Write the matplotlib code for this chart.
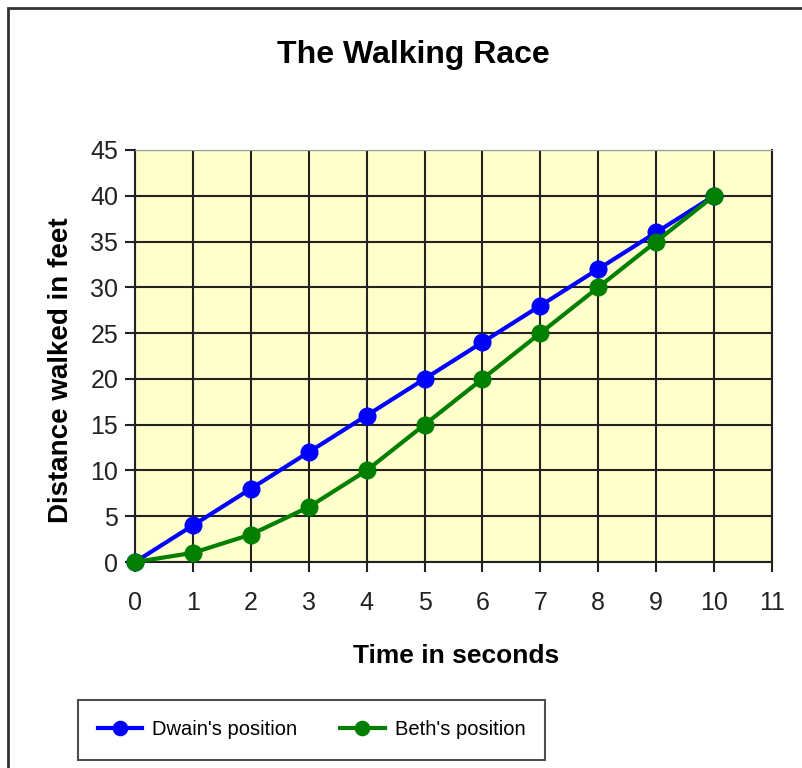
import matplotlib.pyplot as plt
from matplotlib.patches import Rectangle

seconds = [0, 1, 2, 3, 4, 5, 6, 7, 8, 9, 10]
dwain = [0, 4, 8, 12, 16, 20, 24, 28, 32, 36, 40]
beth = [0, 1, 3, 6, 10, 15, 20, 25, 30, 35, 40]

plt.rcParams['font.family'] = ['Liberation Sans', 'DejaVu Sans']

fig = plt.figure(figsize=(8.02, 7.68), dpi=100)
ax = fig.add_axes([0.1683, 0.2682, 0.7943, 0.5365])
ax.set_facecolor('#ffffcc')

ax.plot(seconds, dwain, color='#0000ff', lw=3, marker='o', ms=12,
        label="Dwain's position", zorder=3, clip_on=False)
ax.plot(seconds, beth, color='#007f00', lw=3, marker='o', ms=12,
        label="Beth's position", zorder=4, clip_on=False)

ax.set_xlim(0, 11)
ax.set_ylim(0, 45)
ax.set_xticks(range(0, 12))
ax.set_yticks(range(0, 50, 5))
ax.grid(True, color='#222222', lw=1.5)
ax.set_axisbelow(True)
ax.tick_params(labelsize=18, length=7, width=1.5, colors='#222222')
ax.tick_params(axis='x', pad=14)
ax.tick_params(axis='y', pad=5)
for s in ['left', 'bottom', 'right']:
    ax.spines[s].set_color('#222222')
    ax.spines[s].set_linewidth(1.5)
ax.spines['top'].set_color('#999999')

ax.set_xlabel('Time in seconds', fontsize=19, fontweight='bold')
ax.set_ylabel('Distance walked in feet', fontsize=20, fontweight='bold')
ax.xaxis.set_label_coords(0.504, -0.198)
ax.yaxis.set_label_coords(-0.095, 0.466)
fig.text(0.516, 0.928, 'The Walking Race', fontsize=23, fontweight='bold',
         ha='center', va='center')

leg = fig.legend(loc='lower left', bbox_to_anchor=(0.097, 0.011, 0.583, 0.076),
                 mode='expand', ncol=2, fontsize=14.5, frameon=True, fancybox=False,
                 edgecolor='#222222', handlelength=2.2, borderaxespad=0,
                 markerscale=0.85, borderpad=1.0, handletextpad=0.5)
leg.get_frame().set_linewidth(1.5)

fig.patches.append(Rectangle((0.01, -0.05), 1.2, 1.04, transform=fig.transFigure,
                             fill=False, edgecolor='#333333', lw=2))

fig.savefig('out.png', dpi=100)
